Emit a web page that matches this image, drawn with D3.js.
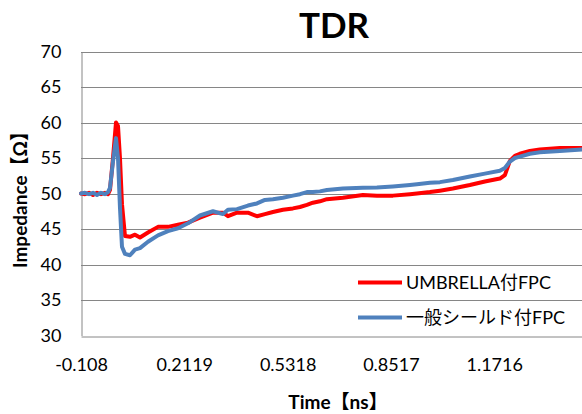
<!DOCTYPE html>
<html>
<head>
<meta charset="utf-8">
<script src="https://cdn.jsdelivr.net/npm/d3@7"></script>
<style>
  html, body { margin: 0; padding: 0; background: #fff; }
  svg { display: block; }
</style>
</head>
<body>
<div id="chart"></div>
<script>
// ---- data ----
const title = "TDR";
const xTitle = "Time【ns】";
const yTitle = "Impedance【Ω】";
const seriesNames = ["UMBRELLA付FPC", "一般シールド付FPC"];
const xTickValues = [-0.108, 0.2119, 0.5318, 0.8517, 1.1716];
const xTickLabels = ["-0.108", "0.2119", "0.5318", "0.8517", "1.1716"];
const yTickValues = [30, 35, 40, 45, 50, 55, 60, 65, 70];

const time = [
  -0.108, -0.0956, -0.0832, -0.0708, -0.0585, -0.0461, -0.0337, -0.0244, -0.0182, -0.0089,
  0.0004, 0.0066, 0.0127, 0.0189, 0.0282, 0.0437, 0.0592, 0.0747, 0.0994, 0.1304,
  0.1613, 0.1923, 0.2233, 0.2604, 0.3007, 0.3316, 0.3471, 0.3750, 0.4090, 0.4369,
  0.4616, 0.4864, 0.5173, 0.5483, 0.5700, 0.5916, 0.6102, 0.6319, 0.6536, 0.7031,
  0.7650, 0.8084, 0.8579, 0.9106, 0.9322, 0.9725, 1.0035, 1.0437, 1.0963, 1.1428,
  1.1892, 1.2047, 1.2202, 1.2357, 1.2511, 1.2821, 1.3130, 1.3749, 1.4430, 1.4700
];
const umbrella = [
  50.0, 49.9, 50.1, 49.8, 50.1, 49.9, 50.1, 49.9, 50.5, 55.0,
  60.0, 59.5, 55.0, 48.5, 44.0, 43.9, 44.2, 43.8, 44.5, 45.3,
  45.3, 45.6, 45.9, 46.6, 47.3, 47.3, 46.8, 47.3, 47.3, 46.8,
  47.1, 47.4, 47.7, 47.9, 48.1, 48.4, 48.7, 48.9, 49.2, 49.4,
  49.8, 49.7, 49.7, 49.9, 50.0, 50.2, 50.4, 50.7, 51.2, 51.7,
  52.1, 52.6, 54.6, 55.3, 55.6, 56.0, 56.2, 56.4, 56.4, 56.4
];
const general = [
  50.0, 50.1, 49.9, 50.1, 49.8, 50.1, 49.9, 50.2, 50.8, 54.5,
  57.8, 55.0, 48.0, 42.5, 41.5, 41.3, 42.1, 42.3, 43.2, 44.1,
  44.7, 45.1, 45.8, 46.9, 47.5, 47.1, 47.7, 47.8, 48.3, 48.6,
  49.1, 49.2, 49.4, 49.7, 49.9, 50.2, 50.2, 50.3, 50.5, 50.7,
  50.8, 50.85, 51.0, 51.2, 51.3, 51.5, 51.6, 51.9, 52.4, 52.8,
  53.2, 53.6, 54.5, 55.0, 55.2, 55.6, 55.8, 56.0, 56.2, 56.2
];
const seriesColors = ["#FF0000", "#4F81BD"];

// ---- layout ----
const W = 582, H = 414;
const FONT = "Lato, 'Noto Sans CJK JP', sans-serif";
const plotLeft = 81, plotTop = 51.5, plotBottom = 335.5;

const svg = d3.select("#chart").append("svg")
  .attr("width", W).attr("height", H)
  .style("font-family", FONT);

const x = d3.scaleLinear().domain([-0.108, 1.4915]).range([plotLeft, 597.5]);
const y = d3.scaleLinear().domain([30, 70]).range([plotBottom, plotTop]);

// gridlines
svg.append("g")
  .selectAll("line")
  .data(yTickValues.filter(v => v > 30))
  .join("line")
  .attr("x1", plotLeft).attr("x2", W)
  .attr("y1", d => Math.round(y(d)) + 0.5).attr("y2", d => Math.round(y(d)) + 0.5)
  .attr("stroke", "#868686").attr("stroke-width", 1);

// y axis
const yAxis = d3.axisLeft(y).tickValues(yTickValues).tickSize(0).tickPadding(20);
const gy = svg.append("g").attr("transform", `translate(${plotLeft + 0.5},0)`).call(yAxis);
gy.select(".domain").attr("stroke", "#868686");
gy.selectAll("text").attr("font-size", 18).attr("fill", "#000").style("font-family", FONT);

// x axis
const xAxis = d3.axisBottom(x).tickValues(xTickValues)
  .tickFormat((d, i) => xTickLabels[i]).tickSize(0).tickPadding(22);
const gx = svg.append("g").attr("transform", `translate(0,${Math.round(plotBottom) + 0.5})`).call(xAxis);
gx.select(".domain").attr("stroke", "#868686");
gx.selectAll("text").attr("font-size", 18).attr("fill", "#000").style("font-family", FONT);

// lines
const line = d3.line().x(d => x(d[0])).y(d => y(d[1])).curve(d3.curveLinear);
[umbrella, general].forEach((vals, i) => {
  svg.append("path")
    .datum(time.map((t, j) => [t, vals[j]]))
    .attr("d", line)
    .attr("fill", "none")
    .attr("stroke", seriesColors[i])
    .attr("stroke-width", 4)
    .attr("stroke-linejoin", "round")
    .attr("stroke-linecap", "round");
});

// legend
const legendY = [282.5, 317.5];
seriesNames.forEach((name, i) => {
  svg.append("line")
    .attr("x1", 358).attr("x2", 402)
    .attr("y1", legendY[i]).attr("y2", legendY[i])
    .attr("stroke", seriesColors[i]).attr("stroke-width", 4);
  svg.append("text")
    .attr("x", 406).attr("y", legendY[i])
    .attr("dy", "0.35em")
    .attr("font-size", 18)
    .attr("fill", "#000")
    .text(name);
});

// title
svg.append("text")
  .attr("x", 334).attr("y", 38)
  .attr("text-anchor", "middle")
  .attr("font-size", 35).attr("font-weight", "bold")
  .text(title);

// x title
svg.append("text")
  .attr("x", 338).attr("y", 409)
  .attr("text-anchor", "middle")
  .attr("font-size", 19).attr("font-weight", "bold")
  .text(xTitle);

// y title
svg.append("text")
  .attr("transform", "translate(27,195) rotate(-90)")
  .attr("text-anchor", "middle")
  .attr("font-size", 19).attr("font-weight", "bold")
  .text(yTitle);
</script>
</body>
</html>
